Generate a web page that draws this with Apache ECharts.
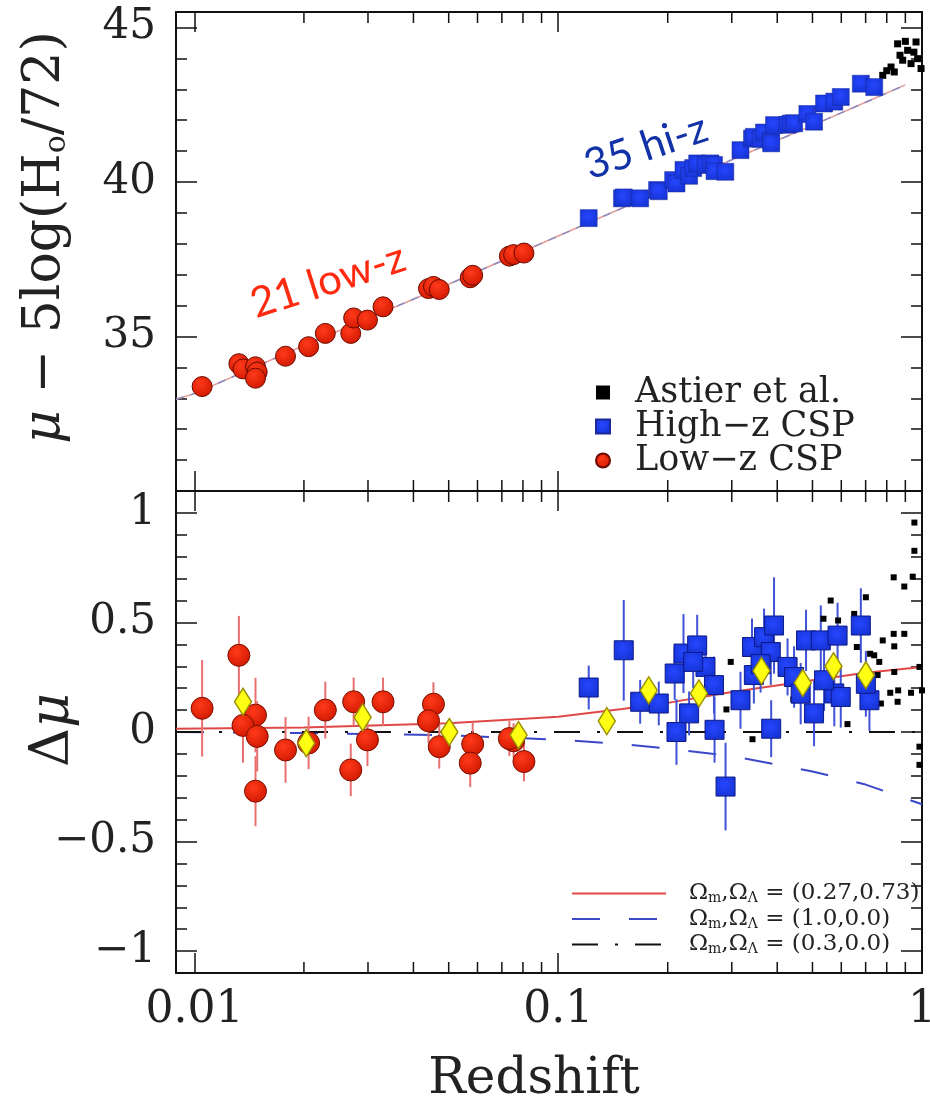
<!DOCTYPE html>
<html>
<head>
<meta charset="utf-8">
<script src="https://cdn.jsdelivr.net/npm/echarts@6/dist/echarts.min.js"></script>
<style>
  html, body { margin: 0; padding: 0; background: #fff; }
  #chart { width: 930px; height: 1103px; }
</style>
</head>
<body>
<div id="chart"></div>
<script>
// ---- top panel: distance modulus ----
var lowZTop  = [0.0105, 0.01325, 0.0136, 0.01472, 0.01488, 0.01472, 0.0178, 0.0206, 0.0229, 0.0269, 0.0274, 0.0299, 0.0330, 0.0440, 0.0454, 0.0471, 0.0573, 0.0582, 0.0734, 0.0754, 0.0805];
var lowMuTop = [33.38, 34.12, 33.95, 34.02, 33.85, 33.65, 34.36, 34.67, 35.10, 35.10, 35.60, 35.53, 35.96, 36.55, 36.62, 36.52, 36.90, 36.98, 37.60, 37.65, 37.70];

var hiZTop  = [0.1213, 0.1497, 0.1514, 0.168, 0.187, 0.189, 0.207, 0.2114, 0.221, 0.229, 0.235, 0.241, 0.254, 0.262, 0.268, 0.269, 0.288, 0.317, 0.341, 0.345, 0.36, 0.368, 0.384, 0.385, 0.392, 0.427, 0.436, 0.445, 0.484, 0.505, 0.538, 0.574, 0.598, 0.679, 0.739];
var hiMuTop = [38.83, 39.47, 39.50, 39.47, 39.74, 39.70, 40.06, 39.95, 40.39, 40.20, 40.45, 40.60, 40.55, 40.60, 40.55, 40.35, 40.33, 41.03, 41.40, 41.46, 41.40, 41.60, 41.35, 41.25, 41.84, 41.85, 41.89, 41.90, 42.20, 41.95, 42.54, 42.60, 42.75, 43.18, 43.07];

var astZTop  = [0.78, 0.80, 0.822, 0.839, 0.857, 0.87, 0.885, 0.90, 0.913, 0.933, 0.95, 0.963, 0.973, 0.994];
var astMuTop = [43.45, 43.60, 43.72, 43.56, 44.47, 44.10, 43.94, 44.55, 44.26, 43.83, 44.20, 44.53, 43.99, 43.67];

var modelZTop  = [0.0089, 0.01, 0.02, 0.05, 0.1, 0.2, 0.3, 0.5, 0.7, 0.9];
var modelMuTop = [32.97, 33.15, 34.71, 36.69, 38.25, 39.80, 40.72, 41.83, 42.58, 43.14];

// ---- bottom panel: residuals ----
var lowZ   = [0.0105, 0.01325, 0.01472, 0.0136, 0.01488, 0.01472, 0.0178, 0.0229, 0.0274, 0.0299, 0.0269, 0.0330, 0.0454, 0.0440, 0.0471, 0.0582, 0.0573, 0.0754, 0.0805, 0.0206, 0.0734];
var lowRes = [0.108, 0.35, 0.077, 0.03, -0.02, -0.27, -0.082, 0.10, 0.138, -0.036, -0.173, 0.138, 0.127, 0.051, -0.067, -0.055, -0.142, -0.04, -0.135, -0.05, -0.03];
var lowErr = [0.22, 0.18, 0.17, 0.17, 0.16, 0.16, 0.15, 0.13, 0.11, 0.12, 0.12, 0.11, 0.10, 0.10, 0.10, 0.10, 0.11, 0.08, 0.09, 0.12, 0.08];

var hiZ   = [0.1213, 0.1514, 0.168, 0.189, 0.209, 0.221, 0.241, 0.254, 0.268, 0.229, 0.2114, 0.269, 0.2884, 0.317, 0.385, 0.341, 0.368, 0.392, 0.384, 0.345, 0.427, 0.445, 0.480, 0.527, 0.586, 0.679, 0.505, 0.574, 0.598, 0.717, 0.538, 0.464, 0.701, 0.36, 0.235];
var hiRes = [0.203, 0.373, 0.138, 0.13, 0.267, 0.358, 0.395, 0.297, 0.214, 0.085, 0.0, 0.01, -0.249, 0.145, 0.015, 0.388, 0.433, 0.486, 0.365, 0.26, 0.297, 0.251, 0.418, 0.418, 0.44, 0.486, 0.085, 0.176, 0.16, 0.145, 0.236, 0.175, 0.22, 0.31, 0.32];
var hiErr = [0.10, 0.23, 0.10, 0.10, 0.12, 0.18, 0.14, 0.12, 0.13, 0.10, 0.15, 0.15, 0.20, 0.13, 0.13, 0.13, 0.13, 0.22, 0.15, 0.13, 0.13, 0.14, 0.14, 0.16, 0.15, 0.17, 0.15, 0.15, 0.14, 0.14, 0.14, 0.14, 0.15, 0.13, 0.12];

var astZ   = [0.953, 0.953, 0.836, 0.894, 0.943, 0.561, 0.701, 0.536, 0.588, 0.651, 0.662, 0.78, 0.836, 0.894, 0.839, 0.739, 0.839, 0.984, 1.0, 0.933, 0.818, 0.857, 0.771, 0.298, 0.29, 0.342, 0.624, 0.443, 0.984, 0.984, 0.72, 0.763, 0.755, 0.86];
var astRes = [0.956, 0.827, 0.706, 0.664, 0.709, 0.60, 0.615, 0.517, 0.509, 0.539, 0.388, 0.418, 0.448, 0.448, 0.391, 0.35, 0.274, 0.297, 0.19, 0.179, 0.179, 0.138, 0.13, 0.32, 0.103, -0.033, 0.036, 0.149, -0.067, -0.15, 0.357, 0.32, 0.26, 0.19];

var binZ   = [0.0136, 0.0203, 0.029, 0.0502, 0.0778, 0.136, 0.1774, 0.2437, 0.362, 0.47, 0.571, 0.701];
var binRes = [0.138, -0.051, 0.067, 0.0, -0.014, 0.05, 0.19, 0.176, 0.279, 0.224, 0.30, 0.259];

var curveZ    = [0.0089, 0.02, 0.05, 0.1, 0.15, 0.2, 0.3, 0.5, 0.7, 1.0];
var curveLcdm = [0.015, 0.02, 0.04, 0.07, 0.105, 0.133, 0.183, 0.236, 0.27, 0.297];
var curveEds  = [0.0, -0.005, -0.015, -0.035, -0.055, -0.075, -0.11, -0.18, -0.24, -0.33];
var flatZ     = [0.0089, 1.0];
var flatRes   = [0, 0];

// tick labels and minor tick values of the log redshift axis
var xTickLabels = { '0.01': '0.01', '0.1': '0.1', '1': '1' };
var xMinorTicks = [0.02, 0.03, 0.04, 0.05, 0.06, 0.07, 0.08, 0.09, 0.2, 0.3, 0.4, 0.5, 0.6, 0.7, 0.8, 0.9];

function zip(a, b) {
  return a.map(function (v, i) { return [v, b[i]]; });
}
function zipErr(z, v, e) {
  return z.map(function (x, i) { return [x, v[i] - e[i], v[i] + e[i]]; });
}

var serif = 'DejaVu Serif';

function xAxis(grid, pos, labels) {
  return {
    type: 'log', logBase: 10, gridIndex: grid, position: pos,
    min: 0.0089, max: 1,
    axisLine: { show: true, onZero: false, lineStyle: { color: '#111', width: 2 } },
    axisTick: { show: true, inside: true, length: 20, lineStyle: { color: '#111', width: 1.5 } },
    splitLine: { show: false },
    axisLabel: {
      show: labels, margin: 16, color: '#222', fontFamily: serif, fontSize: 44,
      formatter: function (v) { return xTickLabels[String(v)] || ''; }
    },
    name: labels ? 'Redshift' : '',
    nameLocation: 'middle', nameGap: 82,
    nameTextStyle: { fontFamily: serif, fontSize: 50, color: '#222', padding: [0, 30, 0, 0] }
  };
}

function yAxis(grid, pos, opts) {
  var ax = {
    type: 'value', gridIndex: grid, position: pos,
    min: opts.min, max: opts.max,
    axisLine: { show: true, onZero: false, lineStyle: { color: '#111', width: 2 } },
    axisTick: { show: true, inside: true, length: 21, lineStyle: { color: '#111', width: 1.5 } },
    minorTick: { show: true, splitNumber: 5, length: 11, lineStyle: { color: '#111', width: 1.5 } },
    splitLine: { show: false },
    axisLabel: {
      show: pos === 'left', margin: 20, color: '#222', fontFamily: serif, fontSize: 42,
      showMinLabel: false, showMaxLabel: false,
      formatter: function (v) { return String(v).replace('-', '\u2212'); }
    }
  };
  if (opts.interval) ax.interval = opts.interval;
  if (opts.splitNumber) ax.splitNumber = opts.splitNumber;
  if (opts.name) {
    ax.name = opts.name;
    ax.nameLocation = 'middle';
    ax.nameGap = opts.nameGap;
    ax.nameTextStyle = {
      color: '#222',
      padding: opts.namePad || 0,
      rich: {
        a: { fontFamily: serif, fontSize: opts.nameSize, color: '#222' },
        i: { fontFamily: serif, fontSize: opts.nameSize, fontStyle: 'italic', color: '#222' },
        s: { fontFamily: serif, fontSize: 30, color: '#222', padding: [24, 0, 0, 0] }
      }
    };
  }
  return ax;
}

function errBars(name, data, color) {
  return {
    name: name, type: 'custom', xAxisIndex: 2, yAxisIndex: 2, z: 2,
    data: data,
    renderItem: function (params, api) {
      var a = api.coord([api.value(0), api.value(1)]);
      var b = api.coord([api.value(0), api.value(2)]);
      return { type: 'line', shape: { x1: a[0], y1: a[1], x2: b[0], y2: b[1] },
               style: { stroke: color, lineWidth: 2 } };
    },
    encode: { x: 0, y: [1, 2] },
    silent: true
  };
}

// minor ticks of the log axis, on the top and bottom frame of a grid
function minorTicks(axisIdx) {
  return {
    name: 'minor-' + axisIdx, type: 'custom', xAxisIndex: axisIdx, yAxisIndex: axisIdx, z: 10,
    data: xMinorTicks.map(function (v) { return [v]; }),
    encode: { x: 0 },
    clip: false, silent: true,
    renderItem: function (params, api) {
      var cs = params.coordSys;
      var px = api.coord([api.value(0), 0])[0];
      var st = { stroke: '#111', lineWidth: 1.5 };
      return { type: 'group', children: [
        { type: 'line', shape: { x1: px, y1: cs.y, x2: px, y2: cs.y + 11 }, style: st },
        { type: 'line', shape: { x1: px, y1: cs.y + cs.height, x2: px, y2: cs.y + cs.height - 11 }, style: st }
      ] };
    }
  };
}

var redFill = { type: 'radial', x: 0.4, y: 0.35, r: 0.7,
  colorStops: [{ offset: 0, color: '#ff3a1a' }, { offset: 1, color: '#d01800' }] };
var blueFill = { type: 'radial', x: 0.45, y: 0.4, r: 0.75,
  colorStops: [{ offset: 0, color: '#2546ff' }, { offset: 1, color: '#1430cc' }] };

var chart = echarts.init(document.getElementById('chart'), null, { renderer: 'canvas' });

chart.setOption({
  backgroundColor: '#fff',
  animation: false,
  grid: [
    { left: 176, top: 12, width: 746, height: 479, outerBoundsMode: 'none', containLabel: false },
    { left: 176, top: 491, width: 746, height: 482, outerBoundsMode: 'none', containLabel: false }
  ],
  xAxis: [
    xAxis(0, 'bottom', false),
    xAxis(0, 'top', false),
    xAxis(1, 'bottom', true),
    xAxis(1, 'top', false)
  ],
  yAxis: [
    yAxis(0, 'left', { min: 30, max: 45.5, interval: 5, nameGap: 104, namePad: [0, 0, 0, 28], nameSize: 52,
      name: '{i|\u03bc}{a| \u2212 5log(H}{s|o}{a|/72)}' }),
    yAxis(0, 'right', { min: 30, max: 45.5, interval: 5 }),
    yAxis(1, 'left', { min: -1.1, max: 1.1, splitNumber: 4 }),
    yAxis(1, 'right', { min: -1.1, max: 1.1, splitNumber: 4 })
  ],
  legend: [
    {
      data: ['Astier et al.', 'High\u2212z CSP', 'Low\u2212z CSP'],
      orient: 'vertical', left: 590, top: 370, itemWidth: 14, itemHeight: 14, itemGap: -1,
      selectedMode: false,
      textStyle: { fontFamily: serif, fontSize: 35, lineHeight: 30, color: '#222', padding: [0, 0, 0, 20] }
    },
    {
      data: ['(0.27,0.73)', '(1.0,0.0)', '(0.3,0.0)'],
      orient: 'vertical', left: 566, top: 877, itemWidth: 94, itemHeight: 12, itemGap: 2,
      selectedMode: false,
      itemStyle: { color: 'rgba(0,0,0,0)', borderColor: 'rgba(0,0,0,0)', borderWidth: 0 },
      formatter: function (name) {
        return '{a|\u03a9}{s|m}{a|,\u03a9}{s|\u039b}{a| = ' + name + '}';
      },
      textStyle: {
        padding: [0, 0, 0, 18],
        rich: {
          a: { fontFamily: serif, fontSize: 23, color: '#222', lineHeight: 22 },
          s: { fontFamily: serif, fontSize: 14, color: '#222', padding: [10, 0, 0, 0] }
        }
      }
    }
  ],
  graphic: [
    { type: 'text', x: 328, y: 281, rotation: 0.31,
      style: { text: '21 low-z', fill: '#ff2a10', font: '42px Lato', align: 'center', verticalAlign: 'middle' } },
    { type: 'text', x: 646, y: 147, rotation: 0.32,
      style: { text: '35 hi-z', fill: '#1232a8', font: '42px Lato', align: 'center', verticalAlign: 'middle' } },
    { type: 'text', x: 54, y: 730, rotation: Math.PI / 2,
      style: {
        text: '{a|\u0394}{i|\u03bc}', align: 'center', verticalAlign: 'middle',
        rich: {
          a: { fontFamily: serif, fontSize: 54, fill: '#222' },
          i: { fontFamily: serif, fontSize: 54, fontStyle: 'italic', fill: '#222' }
        }
      } }
  ],
  series: [
    minorTicks(0),
    minorTicks(2),
    // top panel
    { name: 'model-a', type: 'line', xAxisIndex: 0, yAxisIndex: 0, z: 1, symbol: 'none',
      data: zip(modelZTop, modelMuTop), lineStyle: { color: '#e59a9a', width: 1.5 } },
    { name: 'model-b', type: 'line', xAxisIndex: 0, yAxisIndex: 0, z: 1, symbol: 'none',
      data: zip(modelZTop, modelMuTop), lineStyle: { color: '#8c8cc0', width: 1.5, type: [8, 7] } },
    { name: 'Astier et al.', type: 'scatter', xAxisIndex: 0, yAxisIndex: 0, z: 3,
      symbol: 'rect', symbolSize: 7, data: zip(astZTop, astMuTop), itemStyle: { color: '#000', opacity: 1 } },
    { name: 'High\u2212z CSP', type: 'scatter', xAxisIndex: 0, yAxisIndex: 0, z: 4,
      symbol: 'rect', symbolSize: 17, data: zip(hiZTop, hiMuTop),
      itemStyle: { color: blueFill, borderColor: '#1a2a9a', borderWidth: 0.5, opacity: 1 } },
    { name: 'Low\u2212z CSP', type: 'scatter', xAxisIndex: 0, yAxisIndex: 0, z: 4,
      symbol: 'circle', symbolSize: 20, data: zip(lowZTop, lowMuTop),
      itemStyle: { color: redFill, borderColor: '#6a0a00', borderWidth: 1, opacity: 1 } },

    // bottom panel
    { name: '(0.27,0.73)', type: 'line', xAxisIndex: 2, yAxisIndex: 2, z: 1, symbol: 'none',
      data: zip(curveZ, curveLcdm), lineStyle: { color: '#e04848', width: 2 } },
    { name: '(1.0,0.0)', type: 'line', xAxisIndex: 2, yAxisIndex: 2, z: 1, symbol: 'none',
      data: zip(curveZ, curveEds), lineStyle: { color: '#3a48c8', width: 2, type: [28, 29] } },
    { name: '(0.3,0.0)', type: 'line', xAxisIndex: 2, yAxisIndex: 2, z: 1, symbol: 'none',
      data: zip(flatZ, flatRes), lineStyle: { color: '#111', width: 2, type: [26, 17, 3, 17] } },
    errBars('low-err', zipErr(lowZ, lowRes, lowErr), '#e87070'),
    errBars('hi-err', zipErr(hiZ, hiRes, hiErr), '#4052d6'),
    { name: 'astier-res', type: 'scatter', xAxisIndex: 2, yAxisIndex: 2, z: 3,
      symbol: 'rect', symbolSize: 6, data: zip(astZ, astRes), itemStyle: { color: '#000', opacity: 1 } },
    { name: 'low-res', type: 'scatter', xAxisIndex: 2, yAxisIndex: 2, z: 4,
      symbol: 'circle', symbolSize: 22, data: zip(lowZ, lowRes),
      itemStyle: { color: redFill, borderColor: '#7a1000', borderWidth: 1, opacity: 1 } },
    { name: 'hi-res', type: 'scatter', xAxisIndex: 2, yAxisIndex: 2, z: 5,
      symbol: 'rect', symbolSize: 19, data: zip(hiZ, hiRes),
      itemStyle: { color: blueFill, borderColor: '#0c1a88', borderWidth: 1, opacity: 1 } },
    { name: 'binned', type: 'scatter', xAxisIndex: 2, yAxisIndex: 2, z: 6,
      symbol: 'diamond', symbolSize: [17, 27], data: zip(binZ, binRes),
      itemStyle: { color: '#ffff14', borderColor: '#9a8f00', borderWidth: 1.5, opacity: 1 } }
  ]
});
</script>
</body>
</html>
